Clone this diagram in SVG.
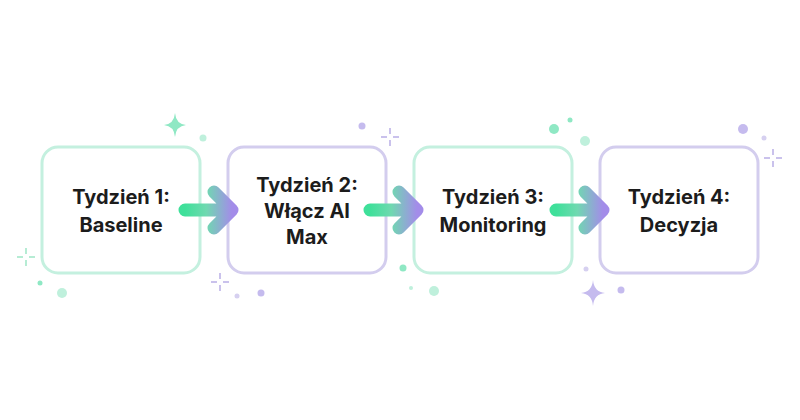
<svg xmlns="http://www.w3.org/2000/svg" width="800" height="420" viewBox="0 0 800 420">
<defs>
<linearGradient id="ag" x1="0" y1="0" x2="1" y2="0"><stop offset="0" stop-color="#3fe09a"/><stop offset="0.45" stop-color="#6fd9b0"/><stop offset="1" stop-color="#a38ce9"/></linearGradient>
<style>
.g{fill:#fff;stroke:#c4f0df;stroke-width:3}
.p{fill:#fff;stroke:#d3cdee;stroke-width:3}
.t{font-family:Inter,"Liberation Sans",sans-serif;font-weight:700;font-size:20px;fill:#1c1c1c;text-anchor:middle}
.a{fill:none;stroke:url(#ag);stroke-width:13;stroke-linecap:round;stroke-linejoin:round}
.dg{fill:#bff0dc}.dp{fill:#d6d0f0}.sg{fill:#8fe8c4}.sp{fill:#c5bbee}
.cg{stroke:#9ee6c6;stroke-width:1.5}.cp{stroke:#b9aee6;stroke-width:1.5}
</style>
</defs>
<rect width="800" height="420" fill="#fff"/>
<g id="decor">
<path class="sg" d="M175 113 Q176 124 186 125 Q176 126 175 137 Q174 126 164 125 Q174 124 175 113Z"/>
<circle class="dg" cx="203" cy="138" r="3.5"/><circle class="dg" cx="176" cy="164" r="5"/><circle class="dg" cx="157" cy="157" r="2"/>
<circle class="dg" cx="63" cy="258" r="3.5"/><circle class="sg" cx="40" cy="283" r="2.5"/><circle class="dg" cx="62" cy="293" r="5"/>
<g class="cg"><line x1="17" y1="257" x2="23" y2="257"/><line x1="29" y1="257" x2="35" y2="257"/><line x1="26" y1="248" x2="26" y2="254"/><line x1="26" y1="260" x2="26" y2="266"/></g>
<circle class="sp" cx="362" cy="126" r="3.5"/><circle class="dp" cx="369" cy="159" r="5"/><circle class="dp" cx="254" cy="256" r="5"/>
<g class="cp"><line x1="381" y1="137" x2="387" y2="137"/><line x1="393" y1="137" x2="399" y2="137"/><line x1="390" y1="128" x2="390" y2="134"/><line x1="390" y1="140" x2="390" y2="146"/></g>
<g class="cp"><line x1="211" y1="282" x2="217" y2="282"/><line x1="223" y1="282" x2="229" y2="282"/><line x1="220" y1="273" x2="220" y2="279"/><line x1="220" y1="285" x2="220" y2="291"/></g>
<circle class="dp" cx="237" cy="296" r="2.5"/><circle class="sp" cx="261" cy="293" r="3.5"/>
<circle class="sg" cx="554" cy="129" r="5"/><circle class="sg" cx="570" cy="120" r="2.5"/><circle class="dg" cx="585" cy="141" r="5"/><circle class="dg" cx="531" cy="160" r="2"/><circle class="dg" cx="549" cy="170" r="4"/>
<circle class="sg" cx="403" cy="268" r="3.5"/><circle class="dg" cx="437" cy="255" r="4"/><circle class="dg" cx="411" cy="288" r="2"/><circle class="dg" cx="434" cy="291" r="5"/>
<circle class="sp" cx="743" cy="129" r="5"/><circle class="dp" cx="764" cy="138" r="2.5"/><circle class="dp" cx="741" cy="162" r="4"/><circle class="dp" cx="621" cy="252" r="5"/><circle class="dp" cx="586" cy="269" r="2.5"/><circle class="sp" cx="621" cy="290" r="3.5"/>
<g class="cp"><line x1="764" y1="158" x2="770" y2="158"/><line x1="776" y1="158" x2="782" y2="158"/><line x1="773" y1="149" x2="773" y2="155"/><line x1="773" y1="161" x2="773" y2="167"/></g>
<path class="sp" d="M593 280 Q594 292 605 293 Q594 294 593 306 Q592 294 581 293 Q592 292 593 280Z"/>
</g>
<g id="node1"><rect class="g" x="42" y="147" width="158" height="126" rx="16"/><text class="t" x="121" y="204">Tydzień 1:</text><text class="t" x="121" y="232">Baseline</text></g>
<g id="node2"><rect class="p" x="228" y="147" width="158" height="126" rx="16"/><text class="t" x="307" y="192">Tydzień 2:</text><text class="t" x="307" y="218">Włącz AI</text><text class="t" x="307" y="244">Max</text></g>
<g id="node3"><rect class="g" x="414" y="147" width="158" height="126" rx="16"/><text class="t" x="493" y="204">Tydzień 3:</text><text class="t" x="493" y="232">Monitoring</text></g>
<g id="node4"><rect class="p" x="600" y="147" width="158" height="126" rx="16"/><text class="t" x="679" y="204">Tydzień 4:</text><text class="t" x="679" y="232">Decyzja</text></g>
<g id="connectors">
<path class="a" d="M185 210 H230 M214 192 L232 210 L214 228"/>
<path class="a" d="M370 210 H416 M399 192 L417 210 L399 228"/>
<path class="a" d="M556 210 H602 M585 192 L603 210 L585 228"/>
</g>
</svg>
